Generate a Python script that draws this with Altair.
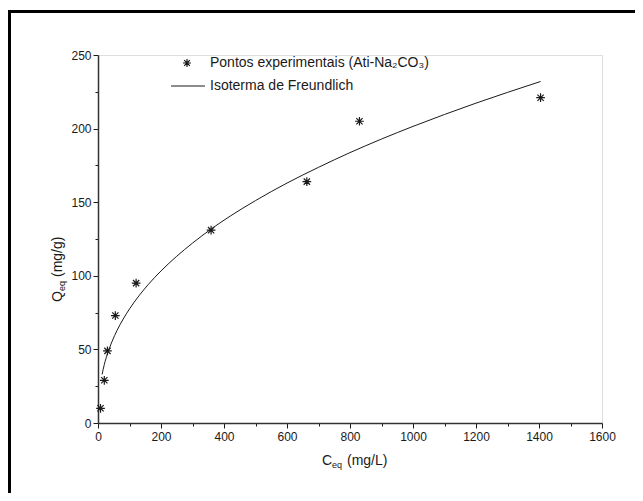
import altair as alt
import pandas as pd

# experimental points (Ceq mg/L, Qeq mg/g)
c_exp = [8, 20, 30, 55, 121, 359, 663, 830, 1405]
q_exp = [10, 29, 49, 73, 95, 131, 164, 205, 221]

# Freundlich isotherm curve
c_fit = [13, 20, 30, 45, 60, 80, 100, 130, 160, 200, 250, 300, 360, 420, 500,
         600, 700, 800, 900, 1000, 1100, 1200, 1300, 1405]
q_fit = [33, 39.7, 47, 55.6, 62.7, 70.6, 77.5, 86.4, 94.2, 103.3, 113.3, 122.2,
         131.9, 140.6, 151.1, 163, 173.7, 183.7, 192.9, 201.5, 209.6, 217.3, 224.6, 232]

x_major = [0, 200, 400, 600, 800, 1000, 1200, 1400, 1600]
x_minor = [100, 300, 500, 700, 900, 1100, 1300, 1500]
y_major = [0, 50, 100, 150, 200, 250]
y_minor = [25, 75, 125, 175, 225]

legend_points = "Pontos experimentais (Ati-Na₂CO₃)"
legend_line = "Isoterma de Freundlich"

FONT = "Liberation Sans"
INK = "#1a1a1a"
W, H = 504, 368

pts = pd.DataFrame({"C": c_exp, "Q": q_exp})
fit = pd.DataFrame({"C": c_fit, "Q": q_fit})
one = pd.DataFrame({"a": [0]})

xs = alt.Scale(domain=[0, 1600], nice=False, zero=False)
ys = alt.Scale(domain=[0, 250], nice=False, zero=False)

STAR = "M0,-1L0,1M-1,0L1,0M-0.72,-0.72L0.72,0.72M-0.72,0.72L0.72,-0.72"

major_x = alt.Axis(values=x_major, orient="bottom", title=None, tickSize=5, tickWidth=1,
                   tickColor=INK, domainColor="#333333", domainWidth=1.5,
                   labelFont=FONT, labelFontSize=12, labelColor=INK, labelPadding=3,
                   labelFlush=False, labelOverlap=False, grid=False, format="d")
minor_x = alt.Axis(values=x_minor, orient="bottom", title=None, tickSize=3, tickWidth=1,
                   tickColor=INK, domain=False, labels=False, grid=False)
major_y = alt.Axis(values=y_major, orient="left", title=None, tickSize=5, tickWidth=1,
                   tickColor=INK, domainColor="#333333", domainWidth=1.5,
                   labelFont=FONT, labelFontSize=12, labelColor=INK, labelPadding=2,
                   labelFlush=False, labelOverlap=False, grid=False, format="d")
minor_y = alt.Axis(values=y_minor, orient="left", title=None, tickSize=3, tickWidth=1,
                   tickColor=INK, domain=False, labels=False, grid=False)

frame = alt.Chart(one).mark_rect(filled=False, stroke="black", strokeWidth=3).encode(
    x=alt.value(-88.5), x2=alt.value(700), y=alt.value(-43.5), y2=alt.value(600)
)

points = alt.Chart(pts).mark_point(shape=STAR, size=76, filled=False, stroke=INK,
                                   strokeWidth=1.2, opacity=1).encode(
    x=alt.X("C:Q", scale=xs, axis=major_x),
    y=alt.Y("Q:Q", scale=ys, axis=major_y),
)

line = alt.Chart(fit).mark_line(color=INK, strokeWidth=1, interpolate="monotone").encode(
    x=alt.X("C:Q", scale=xs, axis=minor_x),
    y=alt.Y("Q:Q", scale=ys, axis=minor_y),
)


def txt(s, x, y, size=14, angle=0, align="left", baseline="alphabetic"):
    return alt.Chart(one).mark_text(text=s, font=FONT, fontSize=size, color=INK,
                                    align=align, baseline=baseline, angle=angle).encode(
        x=alt.value(x), y=alt.value(y))


leg_star = alt.Chart(one).mark_point(shape=STAR, size=64, filled=False, stroke=INK,
                                     strokeWidth=1.2, opacity=1).encode(
    x=alt.value(89), y=alt.value(8))
leg_line = alt.Chart(one).mark_rule(color=INK, strokeWidth=1).encode(
    x=alt.value(73), x2=alt.value(107), y=alt.value(31))
leg_t1 = txt(legend_points, 112, 8, baseline="middle")
leg_t2 = txt(legend_line, 112, 31, baseline="middle")

# x title: C_eq (mg/L)
xt1 = txt("C", 224, 410)
xt2 = txt("eq", 234, 413, size=9)
xt3 = txt("(mg/L)", 249, 410)

# y title: Q_eq (mg/g), rotated
yt1 = txt("Q", -36, 247, angle=270)
yt2 = txt("eq", -33, 236, size=9, angle=270)
yt3 = txt("(mg/g)", -36, 222, angle=270)

chart = alt.layer(
    frame, line, points, leg_star, leg_line, leg_t1, leg_t2, xt1, xt2, xt3, yt1, yt2, yt3
).resolve_axis(x="independent", y="independent").properties(
    width=W, height=H,
    autosize=alt.AutoSizeParams(type="none"),
    padding={"left": 90, "top": 47, "right": 33, "bottom": 70},
).configure_view(stroke=None).configure(background="white")

chart.save("out.html", embed_options={"renderer": "svg", "actions": False})
